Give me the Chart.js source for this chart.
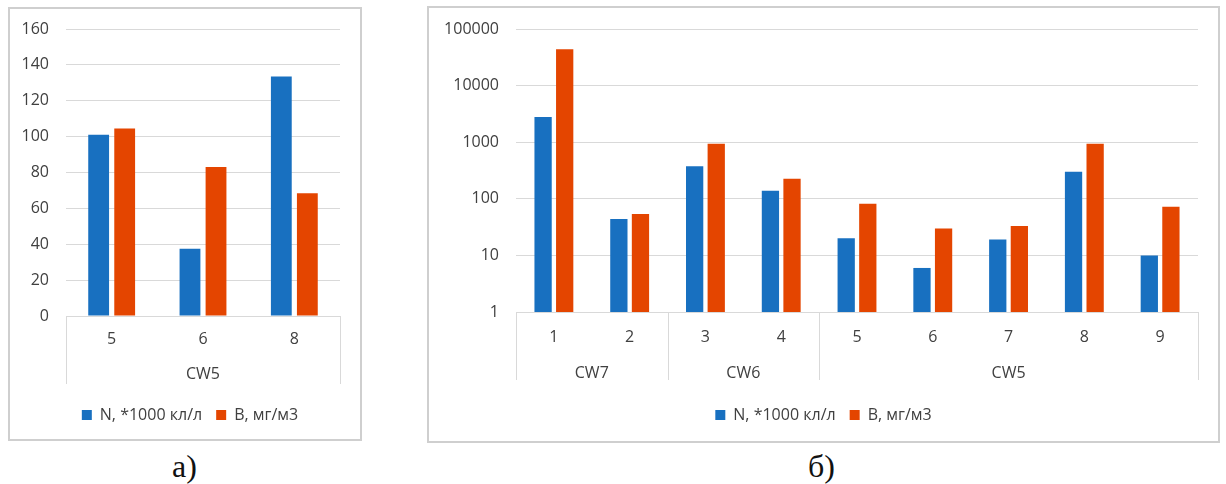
<!DOCTYPE html>
<html lang="ru">
<head>
<meta charset="utf-8">
<title>N и B по станциям</title>
<script src="https://cdn.jsdelivr.net/npm/chart.js@4/dist/chart.umd.min.js"></script>
<style>
  html, body { margin: 0; padding: 0; background: #fff; }
  body { position: relative; width: 1226px; height: 484px; overflow: hidden; }
  .box { position: absolute; border: 2px solid #cfcfcf; box-sizing: border-box; background: #fff; }
  .box canvas { display: block; }
  .cap { position: absolute; font-family: "Liberation Serif", "DejaVu Serif", serif; font-size: 32px; color: #111; line-height: 1; }
</style>
</head>
<body>

<div class="box" id="boxA" style="left:8px; top:7px; width:354px; height:434px;">
  <canvas id="chartA" width="350" height="430"></canvas>
</div>
<div class="box" id="boxB" style="left:427px; top:6px; width:793px; height:437px;">
  <canvas id="chartB" width="789" height="433"></canvas>
</div>
<div class="cap" style="left:172px; top:450px;">а)</div>
<div class="cap" style="left:808px; top:450px;">б)</div>

<script>
'use strict';

/* ── данные ─────────────────────────────── */
const seriesNames = ['N, *1000 кл/л', 'В, мг/м3'];

// а) — одна станция CW5
const catsA   = ['5', '6', '8'];
const groupsA = ['CW5', 'CW5', 'CW5'];
const nA      = [101, 37.5, 133.5];
const bA      = [104.5, 83, 68.5];
const yTicksA = [0, 20, 40, 60, 80, 100, 120, 140, 160];

// б) — три станции, логарифмическая шкала
const catsB   = ['1', '2', '3', '4', '5', '6', '7', '8', '9'];
const groupsB = ['CW7', 'CW7', 'CW6', 'CW6', 'CW5', 'CW5', 'CW5', 'CW5', 'CW5'];
const nB      = [2800, 44, 375, 139, 20, 6, 19, 300, 10];
const bB      = [44000, 54, 940, 225, 82, 30, 33, 940, 72];
const yTicksB = [1, 10, 100, 1000, 10000, 100000];

const BLUE   = '#1870c0';
const ORANGE = '#e44500';
const GRID   = '#d9d9d9';
const TEXT   = '#404040';
const FONT   = '"Open Sans", "Noto Sans", sans-serif';

Chart.defaults.font.family = FONT;
Chart.defaults.font.size = 16;
Chart.defaults.color = TEXT;

/* ── подписи групп под осью X + сдвиг легенды ── */
const groupRows = {
  id: 'groupRows',
  afterLayout(chart, args, opts) {
    const lg = chart.legend;
    if (lg && opts.legendShift) { lg.left += opts.legendShift; lg.right += opts.legendShift; }
  },
  afterDraw(chart, args, opts) {
    const { ctx, chartArea: area } = chart;
    const x = chart.scales.x;
    const groups = opts.groups || [];
    const n = groups.length;
    if (!n) return;
    const w = area.width / n;

    // границы групп
    const edges = [0];
    for (let i = 1; i < n; i++) if (groups[i] !== groups[i - 1]) edges.push(i);
    edges.push(n);

    ctx.save();
    ctx.strokeStyle = GRID;
    ctx.lineWidth = 1;
    edges.forEach(i => {
      const px = Math.round(area.left + i * w) + 0.5;
      ctx.beginPath();
      ctx.moveTo(px, area.bottom);
      ctx.lineTo(px, area.bottom + opts.lineLen);
      ctx.stroke();
    });

    ctx.fillStyle = TEXT;
    ctx.font = `16px ${FONT}`;
    ctx.textAlign = 'center';
    ctx.textBaseline = 'middle';
    for (let k = 0; k < edges.length - 1; k++) {
      const a = edges[k], b = edges[k + 1];
      const cx = (x.getPixelForValue(a) + x.getPixelForValue(b - 1)) / 2;
      ctx.fillText(groups[a], cx, area.bottom + opts.labelOffset);
    }
    ctx.restore();
  }
};

function makeChart(id, o) {
  return new Chart(document.getElementById(id), {
    type: 'bar',
    data: {
      labels: o.cats,
      datasets: [
        { label: seriesNames[0], data: o.n, backgroundColor: BLUE },
        { label: seriesNames[1], data: o.b, backgroundColor: ORANGE },
      ],
    },
    plugins: [groupRows],
    options: {
      responsive: false,
      animation: false,
      events: [],
      categoryPercentage: 0.57,
      barPercentage: 0.8,
      layout: { padding: { top: o.padTop, right: 20, left: 0, bottom: o.padBottom } },
      plugins: {
        tooltip: { enabled: false },
        legend: {
          position: 'bottom',
          labels: { boxWidth: 10, boxHeight: 10, padding: 14, color: TEXT, font: { size: 16 } },
        },
        groupRows: { groups: o.groups, lineLen: 68, labelOffset: o.groupOffset, legendShift: o.legendShift },
      },
      scales: {
        x: {
          grid: { display: false },
          border: { display: true, color: GRID },
          ticks: { padding: o.tickPad, color: TEXT, maxRotation: 0 },
          afterFit(s) { s.height = o.xHeight; },
        },
        y: {
          type: o.log ? 'logarithmic' : 'linear',
          min: o.yTicks[0],
          max: o.yTicks[o.yTicks.length - 1],
          grid: { color: GRID, drawTicks: false },
          border: { display: false },
          ticks: { padding: 17, color: TEXT, callback: v => String(v) },
          afterBuildTicks(s) { s.ticks = o.yTicks.map(v => ({ value: v })); },
          afterFit(s) { s.width = o.yWidth; s.paddingTop = 0; s.paddingBottom = 0; },
        },
      },
    },
  });
}

makeChart('chartA', {
  cats: catsA, groups: groupsA, n: nA, b: bA, yTicks: yTicksA, log: false,
  yWidth: 56, padTop: 20, padBottom: 6, xHeight: 77, tickPad: 6, groupOffset: 58, legendShift: 15,
});

makeChart('chartB', {
  cats: catsB, groups: groupsB, n: nB, b: bB, yTicks: yTicksB, log: true,
  yWidth: 87, padTop: 21, padBottom: 8, xHeight: 81, tickPad: 8, groupOffset: 61, legendShift: 10,
});
</script>
</body>
</html>
